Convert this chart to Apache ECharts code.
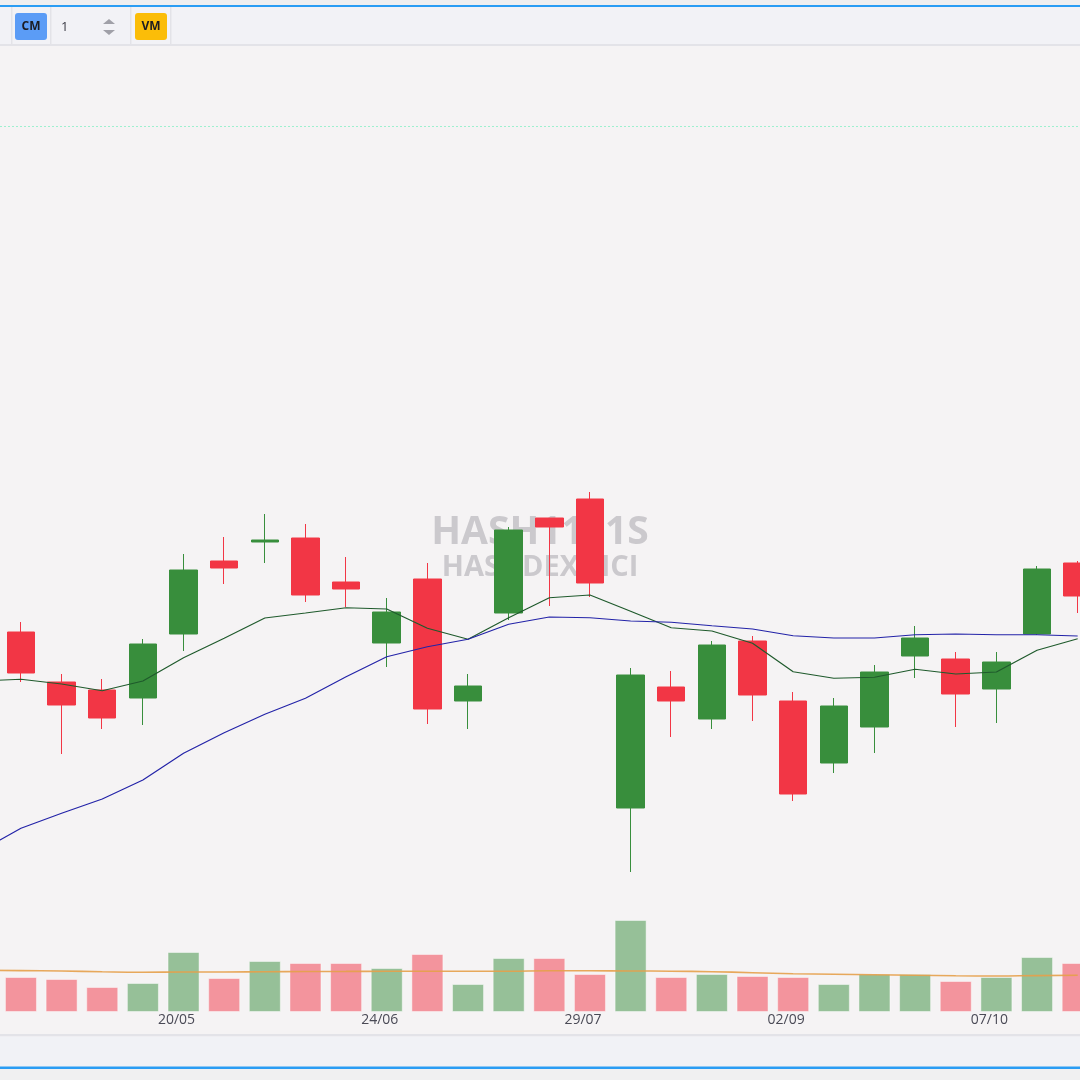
<!DOCTYPE html>
<html>
<head>
<meta charset="utf-8">
<script src="https://cdn.jsdelivr.net/npm/echarts@6/dist/echarts.min.js"></script>
<style>
html,body{margin:0;padding:0;background:#f5f3f4;overflow:hidden;width:1080px;height:1080px;position:relative;}
#chart{position:absolute;left:-40px;top:0;width:1138px;height:1080px;}
</style>
</head>
<body>
<div id="chart"></div>
<script>
// Weekly candles (first entry is the off-screen week before the visible window)
const dates = ['15/04','22/04','29/04','06/05','13/05','20/05','27/05','03/06','10/06','17/06','24/06','01/07','08/07','15/07','22/07','29/07','05/08','12/08','19/08','26/08','02/09','09/09','16/09','23/09','30/09','07/10','14/10','21/10'];
const opens  = [null,54.56,52.56,52.24,51.92,54.48,57.40,58.16,58.32,56.56,54.12,56.68,51.80,55.32,59.12,59.88,47.52,52.36,51.08,54.20,51.80,49.32,50.76,53.60,53.48,52.28,54.48,57.32];
const closes = [null,52.92,51.64,51.12,54.08,57.04,57.12,58.24,56.04,56.28,55.36,51.48,52.40,58.64,58.76,56.52,52.84,51.80,54.04,52.04,48.08,51.60,52.96,54.32,52.08,53.36,57.08,56.00];
const lows   = [null,52.56,49.68,50.68,50.84,53.80,56.48,57.32,55.76,55.56,53.16,50.88,50.68,55.04,55.60,55.96,44.96,50.36,50.68,51.00,47.80,48.92,49.72,52.72,50.76,50.92,54.44,55.32];
const highs  = [null,54.96,52.88,52.68,54.28,57.68,58.36,59.28,58.88,57.56,55.92,57.32,52.88,58.76,59.12,60.16,53.12,53.00,54.20,54.40,52.16,51.92,53.24,54.80,53.76,53.76,57.20,57.40];
const maShort = [52.60,52.67,52.48,52.21,52.60,53.53,54.31,55.12,55.32,55.53,55.48,54.71,54.27,55.13,55.93,56.04,55.39,54.73,54.60,54.11,52.97,52.71,52.75,53.07,52.88,52.96,53.83,54.29];
const maLong  = [45.80,46.71,47.31,47.88,48.64,49.71,50.53,51.27,51.91,52.77,53.57,53.97,54.27,54.87,55.16,55.13,55.00,54.95,54.81,54.68,54.41,54.32,54.32,54.45,54.48,54.45,54.45,54.40];
const volumes = [null,35,33,25,29,60,34,51,49,49,44,58,28,54,54,38,92,35,38,36,35,28,38,38,31,35,55,49];
const volMa   = [41.8,41.4,41.0,40.2,39.8,40.0,40.0,40.3,40.5,40.6,40.7,40.7,40.7,40.8,41.3,41.2,41.0,40.8,40.3,39.3,38.3,37.8,37.3,36.8,36.2,36.0,36.4,36.7];
const priceLevel = 74.8;
const xTickLabels = ['20/05','24/06','29/07','02/09','07/10'];
const watermark1 = 'HASH11, 1S';
const watermark2 = 'HASHDEX NCI';

const UP = '#388e3c', DOWN = '#f23645';
const OX = 40; // chart canvas is shifted 40px left of the visible window
const candleData = dates.map((d,i)=> opens[i]==null ? '-' : [opens[i], closes[i], lows[i], highs[i]]);
const volData = dates.map((d,i)=> volumes[i]==null ? '-' : {
  value: volumes[i],
  itemStyle: { color: closes[i] >= opens[i] ? 'rgba(56,142,60,0.5)' : 'rgba(242,54,69,0.5)' }
});

const chart = echarts.init(document.getElementById('chart'), null, {renderer:'canvas'});
const FONT = '"Open Sans", "Noto Sans", sans-serif';
function R(x,y,w,h,fill,z,r){ return { type:'rect', z:z||100, shape:{x:x+OX,y:y,width:w,height:h,r:r||0}, style:{fill:fill} }; }
function T(x,y,text,font,fill,align){ return { type:'text', z:102, x:x+OX, y:y, style:{text:text, font:font, fill:fill, textAlign:align||'center', textVerticalAlign:'middle'} }; }
const option = {
  backgroundColor: '#f5f3f4',
  animation: false,
  grid: [
    { left: 0, right: 0, top: 46, bottom: 84 },
    { left: 0, right: 0, top: 912, bottom: 68 }
  ],
  xAxis: [
    { type:'category', gridIndex:0, data: dates, boundaryGap: true, show: false },
    { type:'category', gridIndex:1, data: dates, boundaryGap: true,
      axisLine:{show:false}, axisTick:{show:false}, splitLine:{show:false},
      axisLabel:{
        margin: 1, fontSize: 14, color:'#4a4a56', fontFamily: FONT,
        padding:[0,14,0,0],
        interval: (idx, val) => xTickLabels.indexOf(val) >= 0,
        formatter: v => xTickLabels.indexOf(v) >= 0 ? v : ''
      } }
  ],
  yAxis: [
    { type:'value', gridIndex:0, min:40, max:78, show:false, splitLine:{show:false} },
    { type:'value', gridIndex:1, min:0, max:100, show:false, splitLine:{show:false} }
  ],
  graphic: [
    // watermark
    { type:'text', x:540+OX, y:533, z:0, silent:true,
      style:{ text: watermark1, font:'bold 39px "Open Sans", sans-serif', fill:'#cbc9cd', textAlign:'center', textVerticalAlign:'middle' } },
    { type:'text', x:540+OX, y:568, z:0, silent:true,
      style:{ text: watermark2, font:'bold 29px "Open Sans", sans-serif', fill:'#cbc9cd', textAlign:'center', textVerticalAlign:'middle' } },
    // top bar
    R(0,0,1080,5,'#efeff0'),
    R(0,5,1080,2,'#2a9df4'),
    R(0,7,1080,37,'#f2f2f6'),
    R(0,44,1080,2,'#e3e3e8'),
    R(11,7,1.5,37,'#e3e3e8',101),
    R(50,7,1.5,37,'#e3e3e8',101),
    R(130,7,1.5,37,'#e3e3e8',101),
    R(170,7,1.5,37,'#e3e3e8',101),
    R(15,13,32,27,'#5b9cf6',101,3),
    T(31,27,'CM','bold 12px "Open Sans", sans-serif','#1b1b22'),
    T(61,27,'1','13px "Open Sans", sans-serif','#3a3a44','left'),
    { type:'polygon', z:102, shape:{points:[[103+OX,24],[115+OX,24],[109+OX,19]]}, style:{fill:'#a0a0a8'} },
    { type:'polygon', z:102, shape:{points:[[103+OX,30],[115+OX,30],[109+OX,35]]}, style:{fill:'#a0a0a8'} },
    R(135,13,32,27,'#fbbd08',101,3),
    T(151,27,'VM','bold 12px "Open Sans", sans-serif','#1b1b22'),
    // bottom bar
    R(0,1034,1080,2.5,'#e3e3e8'),
    R(0,1036.5,1080,30,'#f1f2f6'),
    R(0,1066.5,1080,2.5,'#2a9df4'),
    R(0,1069,1080,11,'#f0f0f1')
  ],
  series: [
    { type:'candlestick', name:'Preço', xAxisIndex:0, yAxisIndex:0, data: candleData, barWidth: 28, z:5,
      itemStyle:{ color: UP, color0: DOWN, borderColor: UP, borderColor0: DOWN, borderWidth:1 },
      markLine:{ silent:true, symbol:['none','none'], label:{show:false},
        lineStyle:{ type:[2,2], color:'#9ef0cf', width:1 },
        data:[{ yAxis: priceLevel }] }
    },
    { type:'line', name:'MA curta', xAxisIndex:0, yAxisIndex:0, data: maShort, showSymbol:false, z:6,
      lineStyle:{ color:'#1f5a2c', width:1.2 } },
    { type:'line', name:'MA longa', xAxisIndex:0, yAxisIndex:0, data: maLong, showSymbol:false, z:6,
      lineStyle:{ color:'#2323a8', width:1.2 } },
    { type:'bar', name:'Volume', xAxisIndex:1, yAxisIndex:1, data: volData, barWidth: 32, z:3,
      itemStyle:{ borderColor:'rgba(255,255,255,0.45)', borderWidth:1 } },
    { type:'line', name:'MA Volume', xAxisIndex:1, yAxisIndex:1, data: volMa, showSymbol:false, smooth:true, z:4,
      lineStyle:{ color:'#e6a04a', width:1.6, opacity:0.9 } }
  ]
};
chart.setOption(option);
</script>
</body>
</html>
